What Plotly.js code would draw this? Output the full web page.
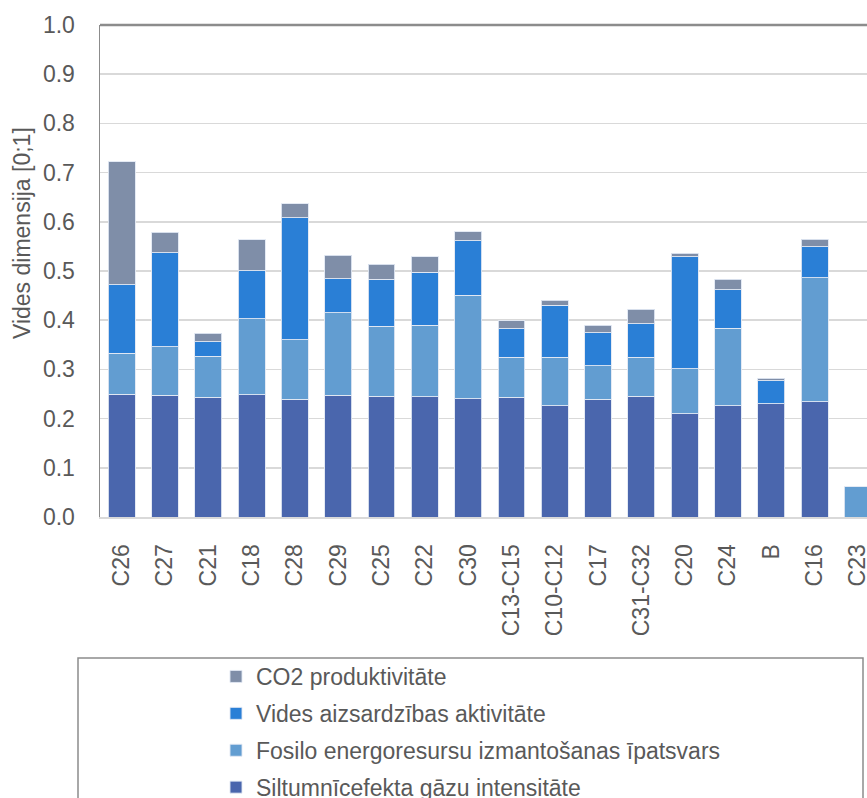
<!DOCTYPE html>
<html>
<head>
<meta charset="utf-8">
<script src="https://cdn.plot.ly/plotly-3.0.1.min.js"></script>
<style>
  html, body { margin: 0; padding: 0; overflow: hidden; background: #fff; }
  #chart { width: 867px; height: 798px; }
</style>
</head>
<body>
<div id="chart"></div>
<script>
// Sector categories along the x axis
const categories = ['C26', 'C27', 'C21', 'C18', 'C28', 'C29', 'C25', 'C22', 'C30',
  'C13-C15', 'C10-C12', 'C17', 'C31-C32', 'C20', 'C24', 'B', 'C16', 'C23'];

// Stacked components of the environmental dimension, bottom to top
const siltumnicefekts = [0.250, 0.247, 0.243, 0.248, 0.239, 0.247, 0.245, 0.244, 0.240,
  0.243, 0.226, 0.239, 0.245, 0.210, 0.226, 0.230, 0.234, null];
const fosilo = [0.083, 0.099, 0.084, 0.155, 0.121, 0.168, 0.143, 0.146, 0.211,
  0.082, 0.099, 0.068, 0.080, 0.091, 0.158, null, 0.252, 0.062];
const videsAktivitate = [0.139, 0.191, 0.029, 0.098, 0.248, 0.069, 0.095, 0.107, 0.111,
  0.058, 0.105, 0.068, 0.068, 0.228, 0.078, 0.047, 0.063, null];
const co2Produktivitate = [0.250, 0.042, 0.017, 0.063, 0.029, 0.048, 0.031, 0.032, 0.018,
  0.016, 0.011, 0.015, 0.029, 0.007, 0.021, 0.005, 0.016, null];

const seriesNames = [
  'Siltumnīcefekta gāzu intensitāte',
  'Fosilo energoresursu izmantošanas īpatsvars',
  'Vides aizsardzības aktivitāte',
  'CO2 produktivitāte'
];
const seriesColors = ['#4a66ad', '#629dd1', '#2a7fd6', '#7f8ea8'];
const seriesValues = [siltumnicefekts, fosilo, videsAktivitate, co2Produktivitate];

const FONT = '"Liberation Sans", Arial, sans-serif';
const TEXT = '#595959';

// legend lists the top segment first
const traces = seriesValues.map((vals, i) => ({
  type: 'bar',
  name: seriesNames[i],
  legendgroup: 'g' + i,
  legendrank: seriesValues.length - i,
  x: categories,
  y: vals,
  marker: { color: seriesColors[i], line: { color: 'rgba(225,232,243,0.9)', width: 1 } },
  hoverinfo: 'x+y+name'
}));

// plot area spans x 100..867 and y 25..517 in page pixels
const W = 867, H = 798, L = 100, T = 25, B = 281;
const plotW = W - L, plotH = H - T - B;

const layout = {
  width: W,
  height: H,
  margin: { l: L, r: 0, t: T, b: B, pad: 0, autoexpand: false },
  paper_bgcolor: '#ffffff',
  plot_bgcolor: '#ffffff',
  barmode: 'stack',
  bargap: 0.38,
  font: { family: FONT, color: TEXT, size: 23 },
  xaxis: {
    type: 'category',
    range: [-0.5, 17.21],
    tickangle: -90,
    tickfont: { family: FONT, size: 23, color: TEXT },
    ticks: 'outside',
    ticklen: 16,
    tickcolor: 'rgba(0,0,0,0)',
    showline: true,
    linecolor: '#d9d9d9',
    linewidth: 2,
    showgrid: false,
    automargin: false,
    fixedrange: true
  },
  yaxis: {
    range: [0, 1],
    dtick: 0.1,
    tickformat: '.1f',
    tickfont: { family: FONT, size: 23, color: TEXT },
    ticks: '',
    ticklabelstandoff: 19,
    showline: true,
    linecolor: '#8c8c8c',
    linewidth: 1.5,
    gridcolor: '#d9d9d9',
    gridwidth: 1.5,
    zeroline: false,
    automargin: false,
    fixedrange: true
  },
  showlegend: true,
  legend: {
    orientation: 'v',
    traceorder: 'grouped',
    tracegroupgap: 4,
    xref: 'container',
    yref: 'container',
    x: 216 / W,
    xanchor: 'left',
    y: 1 - 655 / H,
    yanchor: 'top',
    bgcolor: 'rgba(0,0,0,0)',
    borderwidth: 0,
    font: { family: FONT, size: 23, color: TEXT }
  },
  annotations: [{
    text: 'Vides dimensija [0;1]',
    xref: 'paper', yref: 'paper',
    x: (22 - L) / plotW,
    y: (T + plotH - 233) / plotH,
    xanchor: 'center', yanchor: 'middle',
    textangle: -90,
    showarrow: false,
    font: { family: FONT, size: 23, color: TEXT }
  }],
  shapes: [
    // frame line along the top of the plot area
    { type: 'line', xref: 'paper', yref: 'paper', x0: 0, x1: 1, y0: 1, y1: 1,
      line: { color: '#8c8c8c', width: 2.5 } },
    // legend frame
    { type: 'rect', xref: 'paper', yref: 'paper',
      x0: (78 - L) / plotW, x1: (863 - L) / plotW,
      y0: (T + plotH - 658) / plotH, y1: (T + plotH - 860) / plotH,
      line: { color: '#8c8c8c', width: 1.5 }, fillcolor: 'rgba(0,0,0,0)' }
  ]
};

Plotly.newPlot('chart', traces, layout, { displayModeBar: false, staticPlot: true });
</script>
</body>
</html>
